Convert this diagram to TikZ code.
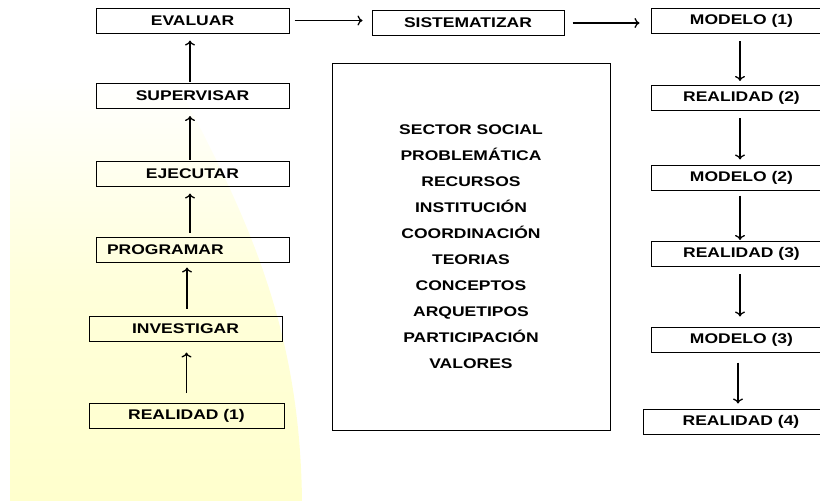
\documentclass[tikz,border=0pt]{standalone}
\usepackage{fontspec}
\setmainfont[FakeStretch=1.25, BoldFont={Liberation Sans Bold}, BoldFeatures={FakeStretch=1.25}]{Liberation Sans}
\usetikzlibrary{arrows.meta}
\definecolor{fondo}{RGB}{255,255,205}

\begin{document}
\begin{tikzpicture}[x=1pt,y=-1pt,
	paso/.style={draw, line width=1pt, minimum width=193pt, minimum height=25pt, inner sep=0pt, font=\fontsize{14}{17}\selectfont\bfseries},
	pasoizq/.style={paso, text width=171pt, inner xsep=11pt, align=left},
	etapa/.style={paso, minimum width=181pt},
	flecha/.style={-{To[length=5pt,width=10pt,line width=1.3pt]}, line width=1.4pt}
	]
	\useasboundingbox (0,0) rectangle (820,501);
	
	% fondo amarillo
	\shade[top color=white, bottom color=fondo, middle color=fondo!75] (10,501) -- (10,80) -- (175,80) .. controls (250,220) and (300,330) .. (302,501) -- cycle;
	
	% columna izquierda
	\node[paso]    (evaluar)    at (192.5,20.5) {EVALUAR};
	\node[paso]    (supervisar) at (192.5,96)   {SUPERVISAR};
	\node[paso]    (ejecutar)   at (192.5,173.5) {EJECUTAR};
	\node[pasoizq] (programar)  at (192.5,249.5) {PROGRAMAR};
	\node[paso]    (investigar) at (185.5,328.5) {INVESTIGAR};
	\node[paso, minimum width=195pt] (real1) at (186.5,416) {REALIDAD (1)};
	
	% centro
	\node[paso, minimum width=192pt] (sistematizar) at (468,23) {SISTEMATIZAR};
	\node[draw, line width=1pt, minimum width=278pt, minimum height=367pt, align=center,
		font=\fontsize{14}{26}\selectfont\bfseries] (factores) at (471,246.5)
		{SECTOR SOCIAL\\PROBLEMÁTICA\\RECURSOS\\INSTITUCIÓN\\COORDINACIÓN\\TEORIAS\\CONCEPTOS\\ARQUETIPOS\\PARTICIPACIÓN\\VALORES};
	
	% columna derecha
	\node[etapa] (modelo1) at (741.5,21)  {MODELO (1)};
	\node[etapa] (real2)   at (741.5,98)  {REALIDAD (2)};
	\node[etapa] (modelo2) at (741.5,177.5) {MODELO (2)};
	\node[etapa] (real3)   at (741.5,254) {REALIDAD (3)};
	\node[etapa] (modelo3) at (741.5,339.5) {MODELO (3)};
	\node[etapa, minimum width=196pt] (real4) at (741,421.5) {REALIDAD (4)};
	
	\draw[flecha, shorten <=1pt, shorten >=7pt] ([xshift=-2.5pt]supervisar.north) -- ([xshift=-2.5pt]evaluar.south);
	\draw[flecha, shorten <=1pt, shorten >=7pt] ([xshift=-2.5pt]ejecutar.north) -- ([xshift=-2.5pt]supervisar.south);
	\draw[flecha, shorten <=4pt, shorten >=7pt] ([xshift=-2.5pt]programar.north) -- ([xshift=-2.5pt]ejecutar.south);
	\draw[flecha, shorten <=7pt, shorten >=5pt] ([xshift=1.5pt]investigar.north) -- ([xshift=1.5pt]investigar.north |- programar.south);
	\draw[flecha, shorten <=10pt, shorten >=11pt] (real1.north) -- (real1.north |- investigar.south);
	
	\draw[flecha, shorten <=5pt, shorten >=9pt] (evaluar.east) -- (evaluar.east -| sistematizar.west);
	\draw[flecha, shorten <=8pt, shorten >=11pt] (sistematizar.east) -- (sistematizar.east -| modelo1.west);
	
	\draw[flecha, shorten <=7pt, shorten >=4pt] ([xshift=-1.5pt]modelo1.south) -- ([xshift=-1.5pt]real2.north);
	\draw[flecha, shorten <=7pt, shorten >=5pt] ([xshift=-1.5pt]real2.south) -- ([xshift=-1.5pt]modelo2.north);
	\draw[flecha, shorten <=5pt, shorten >=1pt] ([xshift=-1.5pt]modelo2.south) -- ([xshift=-1.5pt]real3.north);
	\draw[flecha, shorten <=7pt, shorten >=10pt] ([xshift=-1.5pt]real3.south) -- ([xshift=-1.5pt]modelo3.north);
	\draw[flecha, shorten <=10pt, shorten >=5pt] ([xshift=-3.5pt]modelo3.south) -- ([xshift=-3.5pt]modelo3.south |- real4.north);
	
\end{tikzpicture}
\end{document}
